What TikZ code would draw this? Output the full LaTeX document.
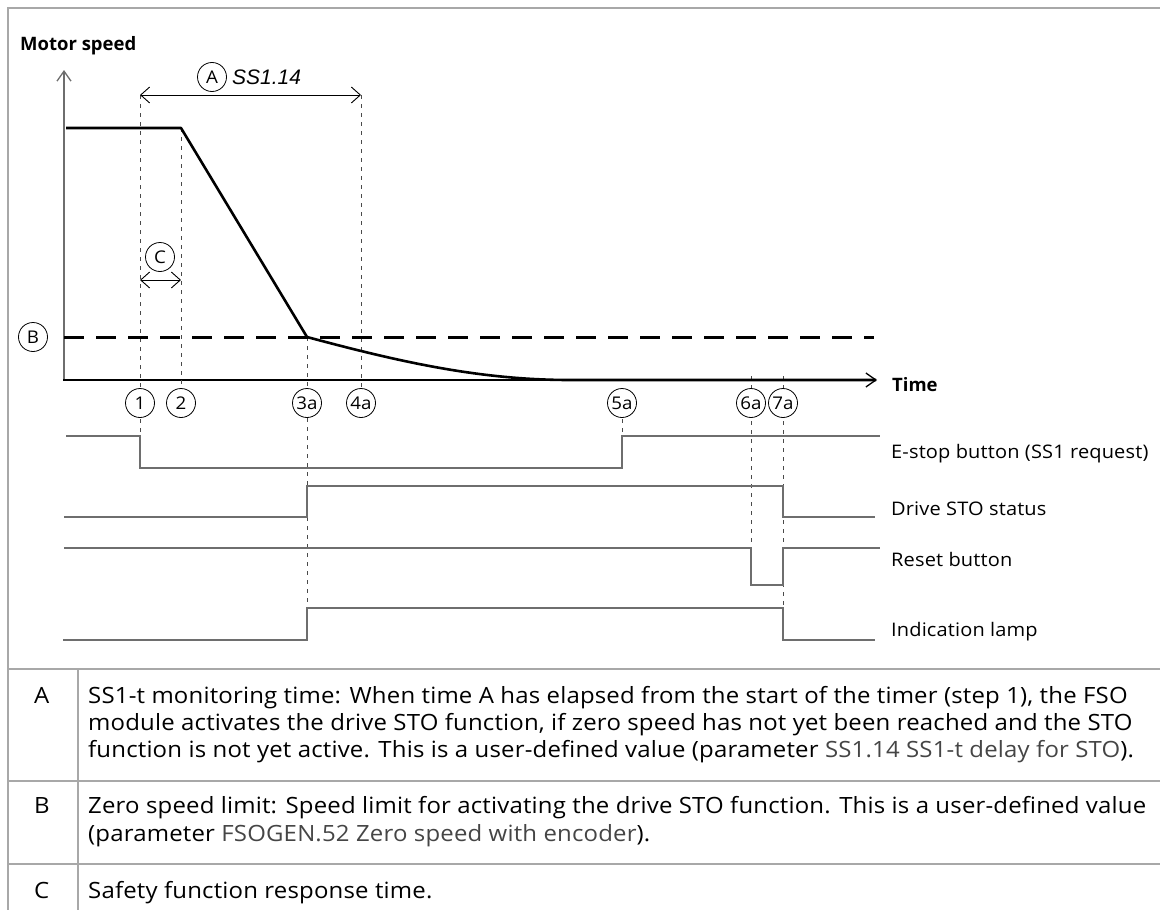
\documentclass[tikz,border=0pt]{standalone}
\usepackage{fontspec}
\setmainfont{Open Sans}
\newfontfamily\abb{Open Sans}[FakeStretch=1.07, LetterSpace=0.8]
\newfontfamily\arialfont{Liberation Sans}
\usetikzlibrary{arrows.meta}
\definecolor{frame}{HTML}{A8A8A8}
\definecolor{sig}{HTML}{6E6E6E}
\definecolor{guide}{HTML}{4A4A4A}
\definecolor{lighttext}{HTML}{454545}
\tikzset{
  frameline/.style={draw=frame, line width=2pt},
  guideline/.style={draw=guide, line width=0.9pt, dash pattern=on 4pt off 5pt},
  sigline/.style={draw=sig, line width=1.4pt},
  speedline/.style={draw=black, line width=2.6pt, line join=round},
  limitline/.style={draw=black, line width=3pt, dash pattern=on 20pt off 12pt},
  axisline/.style={line width=1.3pt},
  circlbl/.style={circle, draw=black, line width=0.8pt, fill=white, minimum size=29pt, inner sep=0pt, font=\abb\fontsize{17.5}{17.5}\selectfont},
  dimarrow/.style={line width=0.9pt, {Straight Barb[length=9pt,width=16pt]}-{Straight Barb[length=9pt,width=16pt]}},
  sigtext/.style={anchor=base west, font=\abb\fontsize{18.7}{20}\selectfont, inner sep=0pt},
  tabtext/.style={anchor=base west, font=\abb\fontsize{22.4}{27}\selectfont, inner sep=0pt},
  boldlbl/.style={anchor=west, font=\fontsize{18.5}{20}\selectfont\bfseries, inner sep=0pt}
}
\newcommand{\lt}[1]{{\color{lighttext}#1}}
\begin{document}
\begin{tikzpicture}[x=1pt,y=-1pt]
\useasboundingbox (0,0) rectangle (1160,910);
% frame and table
\draw[frameline] (8,910) -- (8,8) -- (1160,8);
\draw[frameline] (8,669) -- (1160,669);
\draw[frameline] (8,781) -- (1160,781);
\draw[frameline] (8,864) -- (1160,864);
\draw[frameline] (78,669) -- (78,910);

% axes
\draw[axisline, draw=sig, -{Straight Barb[length=10pt,width=14pt]}] (64,381) -- (64,70);
\draw[axisline, -{Straight Barb[length=10pt,width=14pt]}] (63,380) -- (877,380);
\node[boldlbl] (ylbl) at (20,46) {Motor speed};
\node[boldlbl] (xlbl) at (892,385) {Time};

% guide lines
\draw[guideline] (140,95) -- (140,436);
\draw[guideline] (181,128) -- (181,395);
\draw[guideline] (307,337) -- (307,608);
\draw[guideline] (361,95) -- (361,395);
\draw[guideline] (622,410) -- (622,436);
\draw[guideline] (751,376) -- (751,585);
\draw[guideline] (783,376) -- (783,640);

% zero speed limit
\draw[limitline] (64,337) -- (874,337);
% speed curve
\draw[speedline] (66,128) -- (181,128) -- (307,337)
  .. controls (400,362) and (480,380) .. (570,380) -- (876,380);

% dimension arrows
\draw[dimarrow] (140,95) -- (361,95);
\node[circlbl] (cA) at (212,77) {A};
\node[anchor=west, inner sep=0pt, font=\arialfont\itshape\fontsize{21}{21}\selectfont] (ss) at (232,77) {SS1.14};
\draw[dimarrow] (140,280) -- (181,280);
\node[circlbl] (cC) at (160,257) {C};
\node[circlbl] (cB) at (33,337) {B};

% event labels
\node[circlbl] (e1) at (140,403) {1};
\node[circlbl] (e2) at (181,403) {2};
\node[circlbl] (e3) at (307,403) {3a};
\node[circlbl] (e4) at (361,403) {4a};
\node[circlbl] (e5) at (622,403) {5a};
\node[circlbl] (e6) at (751,403) {6a};
\node[circlbl] (e7) at (783,403) {7a};

% signals
\draw[sigline] (66,436) -- (140,436) -- (140,468) -- (622,468) -- (622,436) -- (880,436);
\draw[sigline] (64,517) -- (307,517) -- (307,486) -- (783,486) -- (783,517) -- (875,517);
\draw[sigline] (64,548) -- (751,548) -- (751,585) -- (783,585) -- (783,548) -- (880,548);
\draw[sigline] (63,640) -- (307,640) -- (307,608) -- (783,608) -- (783,640) -- (875,640);
\node[sigtext] (s1) at (891,458) {E-stop button (SS1 request)};
\node[sigtext] (s2) at (891,515) {Drive STO status};
\node[sigtext] (s3) at (891,566) {Reset button};
\node[sigtext] (s4) at (891,636) {Indication lamp};

% table text
\node[tabtext] (ka) at (34,703) {A};
\node[tabtext] (ta1) at (88,703) {SS1-t monitoring time: When time A has elapsed from the start of the timer (step 1), the FSO};
\node[tabtext] (ta2) at (88,730) {module activates the drive STO function, if zero speed has not yet been reached and the STO};
\node[tabtext] (ta3) at (88,757) {function is not yet active. This is a user-defined value (parameter \lt{SS1.14 SS1-t delay for STO}).};
\node[tabtext] (kb) at (34,813) {B};
\node[tabtext] (tb1) at (88,813) {Zero speed limit: Speed limit for activating the drive STO function. This is a user-defined value};
\node[tabtext] (tb2) at (88,841) {(parameter \lt{FSOGEN.52 Zero speed with encoder}).};
\node[tabtext] (kc) at (34,898) {C};
\node[tabtext] (tc1) at (88,898) {Safety function response time.};
\end{tikzpicture}
\end{document}
